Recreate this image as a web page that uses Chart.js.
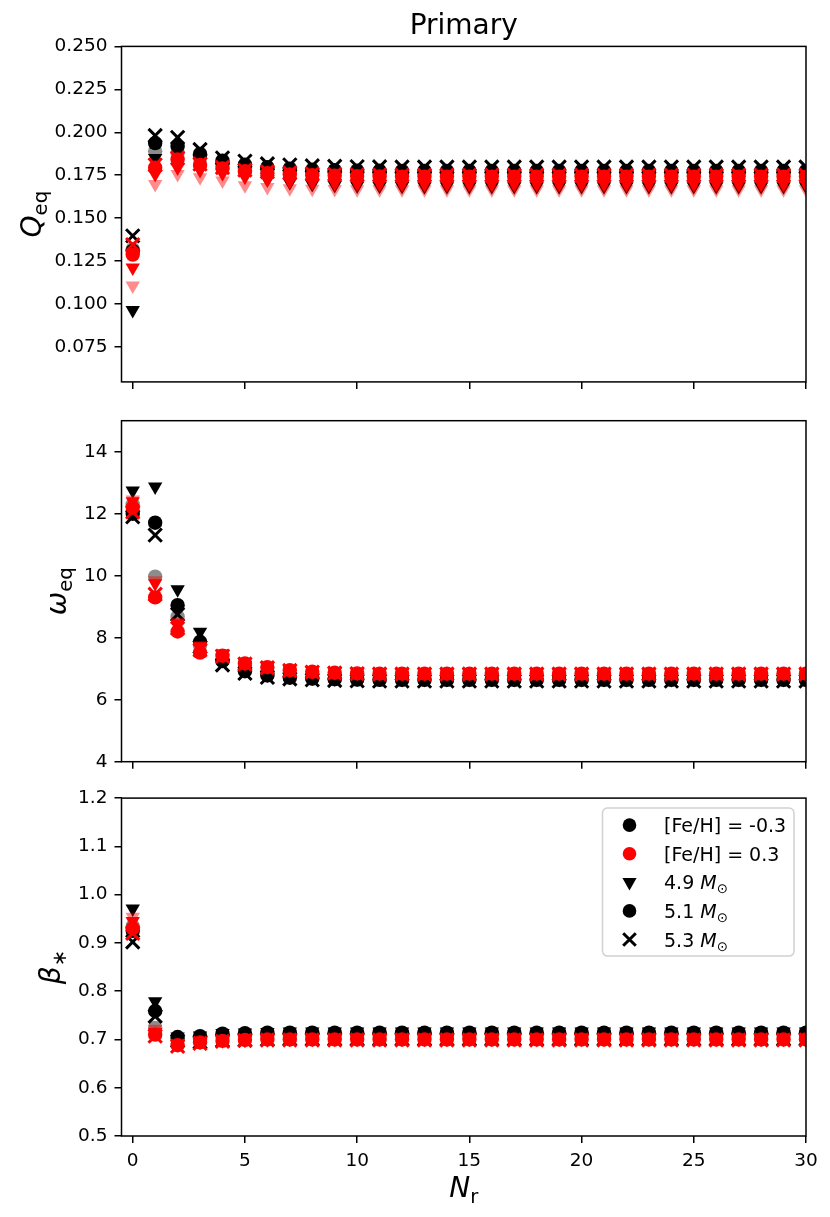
<!DOCTYPE html>
<html>
<head>
<meta charset="utf-8">
<script src="https://cdn.jsdelivr.net/npm/chart.js@4.4.1/dist/chart.umd.min.js"></script>
<style>
  html, body { margin: 0; padding: 0; background: #fff; }
  #wrap { position: relative; width: 830px; height: 1217px; }
  .panel { position: absolute; left: 0; width: 830px; }
</style>
</head>
<body>
<div id="wrap">
  <div class="panel" style="top:0;height:400px"><canvas id="cQ" width="830" height="400"></canvas></div>
  <div class="panel" style="top:400px;height:380px"><canvas id="cW" width="830" height="380"></canvas></div>
  <div class="panel" style="top:780px;height:437px"><canvas id="cB" width="830" height="437"></canvas></div>
</div>
<script>
// ---- data ----
const xs = [0,1,2,3,4,5,6,7,8,9,10,11,12,13,14,15,16,17,18,19,20,21,22,23,24,25,26,27,28,29,30];

const xTicks = [0,5,10,15,20,25,30];
const qTicks = [0.075,0.1,0.125,0.15,0.175,0.2,0.225,0.25];
const wTicks = [4,6,8,10,12,14];
const bTicks = [0.5,0.6,0.7,0.8,0.9,1.0,1.1,1.2];

// Q_eq
const Q_K49 = [0.0965,0.1850,0.1862,0.1830,0.1790,0.1750,0.1725,0.1708,0.1698,0.1692,
  0.1689,0.1687,0.1686,0.1685,0.1685,0.1685,0.1685,0.1685,0.1685,0.1685,
  0.1685,0.1685,0.1685,0.1685,0.1685,0.1685,0.1685,0.1685,0.1685,0.1685,
  0.1685];
const Q_K51 = [0.1310,0.1937,0.1918,0.1874,0.1835,0.1812,0.1797,0.1788,0.1782,0.1779,
  0.1777,0.1776,0.1775,0.1775,0.1775,0.1775,0.1775,0.1775,0.1775,0.1775,
  0.1775,0.1775,0.1775,0.1775,0.1775,0.1775,0.1775,0.1775,0.1775,0.1775,
  0.1775];
const Q_K53 = [0.1397,0.1981,0.1970,0.1900,0.1851,0.1832,0.1817,0.1810,0.1805,0.1802,
  0.1800,0.1799,0.1798,0.1798,0.1798,0.1798,0.1798,0.1798,0.1798,0.1798,
  0.1798,0.1798,0.1798,0.1798,0.1798,0.1798,0.1798,0.1798,0.1798,0.1798,
  0.1798];
const Q_K51f = [0.1320,0.1890,0.1880,0.1850,0.1812,0.1790,0.1778,0.1770,0.1765,0.1762,
  0.1760,0.1760,0.1760,0.1760,0.1760,0.1760,0.1760,0.1760,0.1760,0.1760,
  0.1760,0.1760,0.1760,0.1760,0.1760,0.1760,0.1760,0.1760,0.1760,0.1760,
  0.1760];
const Q_R49 = [0.1212,0.1756,0.1794,0.1780,0.1760,0.1740,0.1725,0.1715,0.1708,0.1704,
  0.1702,0.1701,0.1700,0.1700,0.1700,0.1700,0.1700,0.1700,0.1700,0.1700,
  0.1700,0.1700,0.1700,0.1700,0.1700,0.1700,0.1700,0.1700,0.1700,0.1700,
  0.1700];
const Q_R51 = [0.1288,0.1794,0.1842,0.1810,0.1790,0.1773,0.1762,0.1755,0.1750,0.1747,
  0.1745,0.1743,0.1742,0.1742,0.1742,0.1742,0.1742,0.1742,0.1742,0.1742,
  0.1742,0.1742,0.1742,0.1742,0.1742,0.1742,0.1742,0.1742,0.1742,0.1742,
  0.1742];
const Q_R53 = [0.1346,0.1810,0.1850,0.1815,0.1795,0.1780,0.1770,0.1763,0.1758,0.1755,
  0.1752,0.1751,0.1750,0.1750,0.1750,0.1750,0.1750,0.1750,0.1750,0.1750,
  0.1750,0.1750,0.1750,0.1750,0.1750,0.1750,0.1750,0.1750,0.1750,0.1750,
  0.1750];
const Q_R49f = [0.1107,0.1698,0.1756,0.1737,0.1718,0.1691,0.1680,0.1673,0.1670,0.1669,
  0.1668,0.1668,0.1668,0.1668,0.1668,0.1668,0.1668,0.1668,0.1668,0.1668,
  0.1668,0.1668,0.1668,0.1668,0.1668,0.1668,0.1668,0.1668,0.1668,0.1668,
  0.1668];

// omega_eq
const W_K49 = [12.74,12.87,9.56,8.19,7.35,6.98,6.82,6.75,6.71,6.69,
  6.68,6.67,6.66,6.66,6.66,6.66,6.66,6.66,6.66,6.66,
  6.66,6.66,6.66,6.66,6.66,6.66,6.66,6.66,6.66,6.66,
  6.66];
const W_K51 = [12.00,11.71,9.05,7.87,7.25,6.92,6.78,6.71,6.68,6.66,
  6.65,6.64,6.64,6.64,6.64,6.64,6.64,6.64,6.64,6.64,
  6.64,6.64,6.64,6.64,6.64,6.64,6.64,6.64,6.64,6.64,
  6.64];
const W_K53 = [11.90,11.31,8.75,7.70,7.12,6.85,6.72,6.67,6.64,6.62,
  6.61,6.60,6.60,6.60,6.60,6.60,6.60,6.60,6.60,6.60,
  6.60,6.60,6.60,6.60,6.60,6.60,6.60,6.60,6.60,6.60,
  6.60];
const W_K51f = [12.30,9.97,8.68,7.75,7.25,6.95,6.80,6.73,6.69,6.67,
  6.66,6.65,6.65,6.65,6.65,6.65,6.65,6.65,6.65,6.65,
  6.65,6.65,6.65,6.65,6.65,6.65,6.65,6.65,6.65,6.65,
  6.65];
const W_R49 = [12.40,9.75,8.45,7.72,7.48,7.20,7.07,6.97,6.92,6.89,
  6.87,6.86,6.86,6.86,6.86,6.86,6.86,6.86,6.86,6.86,
  6.86,6.86,6.86,6.86,6.86,6.86,6.86,6.86,6.86,6.86,
  6.86];
const W_R51 = [12.20,9.30,8.20,7.52,7.42,7.17,7.05,6.95,6.90,6.87,
  6.85,6.84,6.84,6.84,6.84,6.84,6.84,6.84,6.84,6.84,
  6.84,6.84,6.84,6.84,6.84,6.84,6.84,6.84,6.84,6.84,
  6.84];
const W_R53 = [12.05,9.40,8.30,7.60,7.40,7.15,7.03,6.94,6.89,6.86,
  6.84,6.83,6.83,6.83,6.83,6.83,6.83,6.83,6.83,6.83,
  6.83,6.83,6.83,6.83,6.83,6.83,6.83,6.83,6.83,6.83,
  6.83];
const W_R49f = [12.45,9.85,8.50,7.75,7.50,7.22,7.09,6.99,6.93,6.90,
  6.88,6.87,6.87,6.87,6.87,6.87,6.87,6.87,6.87,6.87,
  6.87,6.87,6.87,6.87,6.87,6.87,6.87,6.87,6.87,6.87,
  6.87];

// beta_*
const B_K49 = [0.971,0.779,0.706,0.708,0.713,0.714,0.715,0.716,0.716,0.716,
  0.716,0.716,0.716,0.716,0.716,0.716,0.716,0.716,0.716,0.716,
  0.716,0.716,0.716,0.716,0.716,0.716,0.716,0.716,0.716,0.716,
  0.716];
const B_K51 = [0.925,0.759,0.705,0.707,0.712,0.713,0.714,0.714,0.714,0.714,
  0.714,0.714,0.714,0.714,0.714,0.714,0.714,0.714,0.714,0.714,
  0.714,0.714,0.714,0.714,0.714,0.714,0.714,0.714,0.714,0.714,
  0.714];
const B_K53 = [0.902,0.748,0.697,0.695,0.698,0.699,0.700,0.701,0.701,0.701,
  0.701,0.701,0.701,0.701,0.701,0.701,0.701,0.701,0.701,0.701,
  0.701,0.701,0.701,0.701,0.701,0.701,0.701,0.701,0.701,0.701,
  0.701];
const B_K51f = [0.935,0.724,0.700,0.700,0.705,0.708,0.709,0.710,0.710,0.710,
  0.710,0.710,0.710,0.710,0.710,0.710,0.710,0.710,0.710,0.710,
  0.710,0.710,0.710,0.710,0.710,0.710,0.710,0.710,0.710,0.710,
  0.710];
const B_R49 = [0.945,0.715,0.690,0.695,0.698,0.699,0.700,0.701,0.701,0.701,
  0.701,0.701,0.701,0.701,0.701,0.701,0.701,0.701,0.701,0.701,
  0.701,0.701,0.701,0.701,0.701,0.701,0.701,0.701,0.701,0.701,
  0.701];
const B_R51 = [0.930,0.710,0.688,0.694,0.697,0.699,0.700,0.700,0.700,0.700,
  0.700,0.700,0.700,0.700,0.700,0.700,0.700,0.700,0.700,0.700,
  0.700,0.700,0.700,0.700,0.700,0.700,0.700,0.700,0.700,0.700,
  0.700];
const B_R53 = [0.920,0.707,0.686,0.692,0.696,0.698,0.699,0.699,0.699,0.699,
  0.699,0.699,0.699,0.699,0.699,0.699,0.699,0.699,0.699,0.699,
  0.699,0.699,0.699,0.699,0.699,0.699,0.699,0.699,0.699,0.699,
  0.699];
const B_R49f = [0.954,0.722,0.692,0.696,0.699,0.700,0.701,0.702,0.702,0.702,
  0.702,0.702,0.702,0.702,0.702,0.702,0.702,0.702,0.702,0.702,
  0.702,0.702,0.702,0.702,0.702,0.702,0.702,0.702,0.702,0.702,
  0.702];

const legendLabels = ['[Fe/H] = -0.3', '[Fe/H] = 0.3', '4.9 ', '5.1 ', '5.3 '];

// ---- styles ----
const RED = 'rgb(255,0,0)', RED_F = 'rgba(255,0,0,0.45)';
const BLK = '#000', BLK_F = 'rgba(0,0,0,0.45)';
const FONT = '"DejaVu Sans", sans-serif';
Chart.defaults.font.family = FONT;
Chart.defaults.color = '#000';

const shapes = {
  tri:   { pointStyle: 'triangle', pointRadius: 8.3, pointRotation: 180, pointBorderWidth: 0 },
  circ:  { pointStyle: 'circle',   pointRadius: 7.2, pointBorderWidth: 0 },
  cross: { pointStyle: 'crossRot', pointRadius: 9.4, pointBorderWidth: 3 }
};

function series(vals, color, shape) {
  return Object.assign({
    data: xs.map((x, i) => ({ x: x, y: vals[i] })),
    pointBackgroundColor: color,
    pointBorderColor: color,
    showLine: false
  }, shapes[shape]);
}

// bottom first, top last
function buildSets(K49, K51, K53, K51f, R49, R51, R53, R49f) {
  const list = [
    series(K51f, BLK_F, 'circ'),
    series(K49, BLK, 'tri'),
    series(K51, BLK, 'circ'),
    series(K53, BLK, 'cross'),
    series(R49f, RED_F, 'tri'),
    series(R49, RED, 'tri'),
    series(R51, RED, 'circ'),
    series(R53, RED, 'cross')
  ];
  list.forEach((d, i) => { d.order = list.length - i; });
  return list;
}

// ---- plugins ----
const frame = {
  id: 'frame',
  afterDatasetsDraw(chart) {
    const a = chart.chartArea, ctx = chart.ctx;
    ctx.save();
    ctx.strokeStyle = '#000';
    ctx.lineWidth = 1.5;
    ctx.strokeRect(a.left, a.top, a.right - a.left, a.bottom - a.top);
    ctx.restore();
  }
};

function drawMath(ctx, parts, size) {
  const fonts = parts.map(p => (p.it ? 'italic ' : '') + (p.sub ? size * 0.7 : size) + 'px ' + FONT);
  let total = 0;
  const ws = parts.map((p, i) => { ctx.font = fonts[i]; const w = ctx.measureText(p.t).width; total += w; return w; });
  let x = -total / 2;
  parts.forEach((p, i) => {
    ctx.font = fonts[i];
    ctx.fillText(p.t, x, p.sub ? size * 0.22 : 0);
    x += ws[i];
  });
}

const axisLabels = {
  id: 'axisLabels',
  afterDraw(chart, args, opts) {
    const a = chart.chartArea, ctx = chart.ctx;
    ctx.save();
    ctx.fillStyle = '#000';
    ctx.textBaseline = 'alphabetic';
    if (opts.y) {
      ctx.save();
      ctx.translate(opts.y.x, (a.top + a.bottom) / 2);
      ctx.rotate(-Math.PI / 2);
      drawMath(ctx, opts.y.parts, 28);
      ctx.restore();
    }
    if (opts.x) {
      ctx.translate((a.left + a.right) / 2, opts.x.y);
      drawMath(ctx, opts.x.parts, 28);
    }
    ctx.restore();
  }
};

function drawMarker(ctx, shape, x, y, color) {
  ctx.fillStyle = color;
  ctx.strokeStyle = color;
  ctx.beginPath();
  if (shape === 'circ') {
    ctx.arc(x, y, 6.8, 0, Math.PI * 2);
    ctx.fill();
  } else if (shape === 'tri') {
    ctx.moveTo(x - 7.1, y - 4.2);
    ctx.lineTo(x + 7.1, y - 4.2);
    ctx.lineTo(x, y + 8.2);
    ctx.closePath();
    ctx.fill();
  } else {
    ctx.lineWidth = 3;
    ctx.moveTo(x - 6.3, y - 6.3); ctx.lineTo(x + 6.3, y + 6.3);
    ctx.moveTo(x + 6.3, y - 6.3); ctx.lineTo(x - 6.3, y + 6.3);
    ctx.stroke();
  }
}

const legendBox = {
  id: 'legendBox',
  afterDraw(chart) {
    const a = chart.chartArea, ctx = chart.ctx;
    const bw = 191.5, bh = 148;
    const bx = a.right - 12 - bw, by = a.top + 10;
    const marks = [['circ', BLK], ['circ', RED], ['tri', BLK], ['circ', BLK], ['cross', BLK]];
    ctx.save();
    ctx.beginPath();
    ctx.roundRect(bx, by, bw, bh, 5);
    ctx.fillStyle = 'rgba(255,255,255,0.8)';
    ctx.fill();
    ctx.strokeStyle = 'rgba(204,204,204,0.9)';
    ctx.lineWidth = 1.5;
    ctx.stroke();
    legendLabels.forEach((txt, i) => {
      const y = by + 17 + i * 28.6;
      drawMarker(ctx, marks[i][0], bx + 27, y, marks[i][1]);
      ctx.fillStyle = '#000';
      ctx.textBaseline = 'alphabetic';
      let x = bx + 61.5;
      ctx.font = '19px ' + FONT;
      ctx.fillText(txt, x, y + 7);
      if (i >= 2) {
        x += ctx.measureText(txt).width;
        ctx.font = 'italic 19px ' + FONT;
        ctx.fillText('M', x, y + 7);
        x += ctx.measureText('M').width;
        ctx.font = '13.3px ' + FONT;
        ctx.fillText('\u2299', x, y + 11);
      }
    });
    ctx.restore();
  }
};

// ---- charts ----
function xScale(showLabels, height) {
  return {
    type: 'linear', min: -0.5, max: 30,
    afterBuildTicks: s => { s.ticks = xTicks.map(v => ({ value: v })); },
    afterFit: s => { s.height = height; },
    grid: { drawOnChartArea: false, drawTicks: true, tickLength: 7, color: '#000', lineWidth: 1.5 },
    border: { display: false },
    ticks: { display: showLabels, font: { size: 18.5 }, padding: 7, maxRotation: 0 }
  };
}

function yScale(min, max, ticks, digits) {
  return {
    type: 'linear', min: min, max: max,
    afterBuildTicks: s => { s.ticks = ticks.map(v => ({ value: v })); },
    afterFit: s => { s.width = 121.5; },
    grid: { drawOnChartArea: false, drawTicks: true, tickLength: 7, color: '#000', lineWidth: 1.5 },
    border: { display: false },
    ticks: { font: { size: 18.5 }, padding: 7, callback: v => v.toFixed(digits) }
  };
}

function makeChart(id, sets, y, xs_, layoutTop, plugOpts, extraPlugins, title) {
  return new Chart(document.getElementById(id), {
    type: 'scatter',
    data: { datasets: sets },
    options: {
      responsive: false,
      animation: false,
      events: [],
      layout: { padding: { left: 0, right: 24, top: layoutTop, bottom: 0 } },
      scales: { x: xs_, y: y },
      plugins: {
        legend: { display: false },
        tooltip: { enabled: false },
        title: title || { display: false },
        axisLabels: plugOpts
      }
    },
    plugins: [frame, axisLabels].concat(extraPlugins || [])
  });
}

makeChart('cQ',
  buildSets(Q_K49, Q_K51, Q_K53, Q_K51f, Q_R49, Q_R51, Q_R53, Q_R49f),
  yScale(0.0547, 0.25, qTicks, 3),
  xScale(false, 12.3),
  0,
  { y: { x: 41, parts: [{ t: 'Q', it: true }, { t: 'eq', sub: true }] } },
  [],
  { display: true, text: 'Primary', fullSize: false, color: '#000',
    font: { size: 28, weight: 'normal' }, padding: { top: 9.5, bottom: 3.3 } }
);

makeChart('cW',
  buildSets(W_K49, W_K51, W_K53, W_K51f, W_R49, W_R51, W_R53, W_R49f),
  yScale(4, 15, wTicks, 0),
  xScale(false, 18.3),
  20.7,
  { y: { x: 66, parts: [{ t: '\u03c9', it: true }, { t: 'eq', sub: true }] } }
);

makeChart('cB',
  buildSets(B_K49, B_K51, B_K53, B_K51f, B_R49, B_R51, B_R53, B_R49f),
  yScale(0.5, 1.2, bTicks, 1),
  xScale(true, 81),
  15,
  { y: { x: 60, parts: [{ t: '\u03b2', it: true }, { t: '\u2217', sub: true }] },
    x: { y: 417, parts: [{ t: 'N', it: true }, { t: 'r', sub: true }] } },
  [legendBox]
);
</script>
</body>
</html>
